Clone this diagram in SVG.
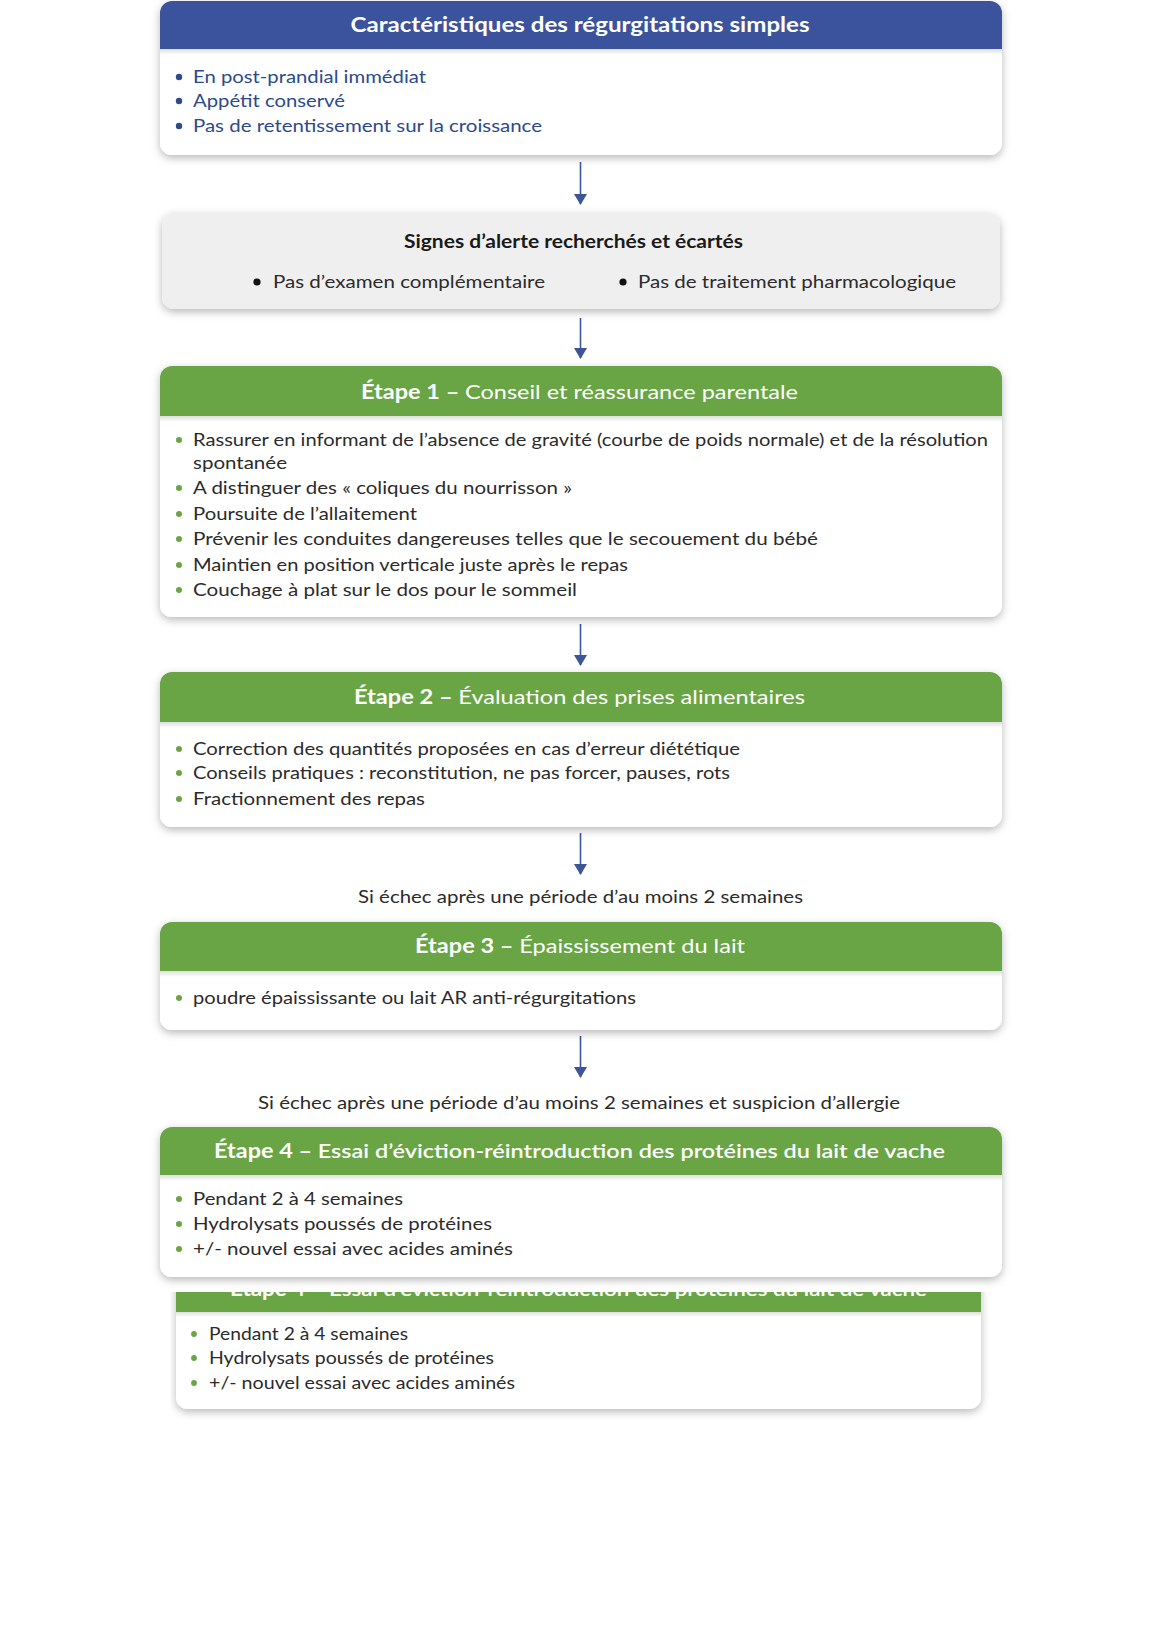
<svg xmlns="http://www.w3.org/2000/svg" width="1157" height="1637" viewBox="0 0 1157 1637">
<style>
.t{font-family:Lato,"Open Sans","Liberation Sans",sans-serif}
.hd{font-size:20px;fill:#ffffff;text-anchor:middle}
.b{font-size:18px;fill:#2b2b2b}
.bb{font-size:18px;fill:#2c4a8c}
.gb{font-size:17.2px;fill:#2b2b2b}
.card{fill:#ffffff;filter:url(#sh)}
.grey{fill:#efefef;filter:url(#sh)}
.blue{fill:#3b539c}
.green{fill:#6aa545}
.dg{fill:#6aa545}
.db{fill:#2c4a8c}
.dk{fill:#111111}
.conn{stroke:#3b5596;stroke-width:1.6;fill:none;marker-end:url(#ah)}
.cap{font-size:18px;fill:#2b2b2b;text-anchor:middle}
</style>
<defs>
<filter id="sh" x="-5%" y="-10%" width="110%" height="130%">
<feDropShadow dx="0" dy="3" stdDeviation="4" flood-color="#000" flood-opacity="0.28"/>
</filter>
<linearGradient id="hs" x1="0" y1="0" x2="0" y2="1">
<stop offset="0" stop-color="#000" stop-opacity="0.13"/>
<stop offset="1" stop-color="#000" stop-opacity="0"/>
</linearGradient>
<marker id="ah" viewBox="0 0 11 13" refX="10" refY="6.5" markerWidth="11" markerHeight="13" markerUnits="userSpaceOnUse" orient="auto">
<path d="M0,0 L11,6.5 L0,13 Z" fill="#3b5596"/>
</marker>
<clipPath id="ghostclip"><rect x="170" y="1292" width="820" height="130"/></clipPath>
</defs>
<rect width="1157" height="1637" fill="#ffffff"/>

<!-- ghost duplicate card (partially hidden) -->
<g id="ghost" clip-path="url(#ghostclip)">
<path class="card" d="M176,1267 H981 V1397 a12,12 0 0 1 -12,12 H188 a12,12 0 0 1 -12,-12 Z"/>
<rect class="green" x="176" y="1267" width="805" height="45"/>
<rect x="176" y="1312" width="805" height="5" fill="url(#hs)"/>
<text class="t hd" x="578.5" y="1296" font-size="19.1" textLength="697" lengthAdjust="spacingAndGlyphs"><tspan font-weight="700">Étape 4 – </tspan><tspan font-weight="600">Essai d’éviction-réintroduction des protéines du lait de vache</tspan></text>
<circle class="dg" cx="194" cy="1334" r="2.9"/>
<circle class="dg" cx="194" cy="1358" r="2.9"/>
<circle class="dg" cx="194" cy="1383" r="2.9"/>
<text class="t gb" x="209" y="1340" textLength="199" lengthAdjust="spacingAndGlyphs">Pendant 2 à 4 semaines</text>
<text class="t gb" x="209" y="1364" textLength="285" lengthAdjust="spacingAndGlyphs">Hydrolysats poussés de protéines</text>
<text class="t gb" x="209" y="1389" textLength="306" lengthAdjust="spacingAndGlyphs">+/- nouvel essai avec acides aminés</text>
</g>
<rect x="168" y="1270" width="824" height="22" fill="#ffffff"/>

<!-- connectors -->
<g id="connectors">
<line class="conn" x1="580.5" y1="162" x2="580.5" y2="204"/>
<line class="conn" x1="580.5" y1="318" x2="580.5" y2="358"/>
<line class="conn" x1="580.5" y1="624" x2="580.5" y2="665"/>
<line class="conn" x1="580.5" y1="833" x2="580.5" y2="874"/>
<line class="conn" x1="580.5" y1="1036" x2="580.5" y2="1077"/>
</g>

<!-- card 1 -->
<g id="card-caracteristiques">
<rect class="card" x="160" y="1" width="842" height="154" rx="12"/>
<path class="blue" d="M160,49 V13 a12,12 0 0 1 12,-12 H990 a12,12 0 0 1 12,12 V49 Z"/>
<rect x="160" y="49" width="842" height="6" fill="url(#hs)"/>
<text class="t hd" x="580" y="32" font-weight="700" textLength="459" lengthAdjust="spacingAndGlyphs">Caractéristiques des régurgitations simples</text>
<circle class="db" cx="179" cy="77" r="3.2"/>
<circle class="db" cx="179" cy="101" r="3.2"/>
<circle class="db" cx="179" cy="126" r="3.2"/>
<text class="t bb" x="193" y="83" textLength="233" lengthAdjust="spacingAndGlyphs">En post-prandial immédiat</text>
<text class="t bb" x="193" y="107" textLength="152" lengthAdjust="spacingAndGlyphs">Appétit conservé</text>
<text class="t bb" x="193" y="132" textLength="349" lengthAdjust="spacingAndGlyphs">Pas de retentissement sur la croissance</text>
</g>

<!-- card 2 -->
<g id="card-signes">
<rect class="grey" x="162" y="213" width="838" height="96" rx="12"/>
<text class="t" x="573.5" y="248" font-size="19" font-weight="700" fill="#1a1a1a" text-anchor="middle" textLength="339" lengthAdjust="spacingAndGlyphs">Signes d’alerte recherchés et écartés</text>
<circle class="dk" cx="257" cy="282" r="3.6"/>
<circle class="dk" cx="623" cy="282" r="3.6"/>
<text class="t b" x="273" y="288" textLength="272" lengthAdjust="spacingAndGlyphs">Pas d’examen complémentaire</text>
<text class="t b" x="638" y="288" textLength="318" lengthAdjust="spacingAndGlyphs">Pas de traitement pharmacologique</text>
</g>

<!-- card 3 -->
<g id="card-etape1">
<rect class="card" x="160" y="366" width="842" height="251" rx="12"/>
<path class="green" d="M160,416 V378 a12,12 0 0 1 12,-12 H990 a12,12 0 0 1 12,12 V416 Z"/>
<rect x="160" y="416" width="842" height="6" fill="url(#hs)"/>
<text class="t hd" x="579.5" y="399" textLength="437" lengthAdjust="spacingAndGlyphs"><tspan font-weight="700">Étape 1 – </tspan><tspan font-weight="400">Conseil et réassurance parentale</tspan></text>
<circle class="dg" cx="179" cy="440" r="3"/>
<circle class="dg" cx="179" cy="488" r="3"/>
<circle class="dg" cx="179" cy="514" r="3"/>
<circle class="dg" cx="179" cy="539" r="3"/>
<circle class="dg" cx="179" cy="565" r="3"/>
<circle class="dg" cx="179" cy="590" r="3"/>
<text class="t b" x="193" y="446" textLength="795" lengthAdjust="spacingAndGlyphs">Rassurer en informant de l’absence de gravité (courbe de poids normale) et de la résolution</text>
<text class="t b" x="193" y="469" textLength="94" lengthAdjust="spacingAndGlyphs">spontanée</text>
<text class="t b" x="193" y="494" textLength="379" lengthAdjust="spacingAndGlyphs">A distinguer des « coliques du nourrisson »</text>
<text class="t b" x="193" y="520" textLength="224" lengthAdjust="spacingAndGlyphs">Poursuite de l’allaitement</text>
<text class="t b" x="193" y="545" textLength="625" lengthAdjust="spacingAndGlyphs">Prévenir les conduites dangereuses telles que le secouement du bébé</text>
<text class="t b" x="193" y="571" textLength="435" lengthAdjust="spacingAndGlyphs">Maintien en position verticale juste après le repas</text>
<text class="t b" x="193" y="596" textLength="384" lengthAdjust="spacingAndGlyphs">Couchage à plat sur le dos pour le sommeil</text>
</g>

<!-- card 4 -->
<g id="card-etape2">
<rect class="card" x="160" y="672" width="842" height="155" rx="12"/>
<path class="green" d="M160,722 V684 a12,12 0 0 1 12,-12 H990 a12,12 0 0 1 12,12 V722 Z"/>
<rect x="160" y="722" width="842" height="6" fill="url(#hs)"/>
<text class="t hd" x="579.5" y="704" textLength="451" lengthAdjust="spacingAndGlyphs"><tspan font-weight="700">Étape 2 – </tspan><tspan font-weight="400">Évaluation des prises alimentaires</tspan></text>
<circle class="dg" cx="179" cy="749" r="3"/>
<circle class="dg" cx="179" cy="773" r="3"/>
<circle class="dg" cx="179" cy="799" r="3"/>
<text class="t b" x="193" y="755" textLength="547" lengthAdjust="spacingAndGlyphs">Correction des quantités proposées en cas d’erreur diététique</text>
<text class="t b" x="193" y="779" textLength="537" lengthAdjust="spacingAndGlyphs">Conseils pratiques : reconstitution, ne pas forcer, pauses, rots</text>
<text class="t b" x="193" y="805" textLength="232" lengthAdjust="spacingAndGlyphs">Fractionnement des repas</text>
</g>

<text id="label-echec1" class="t cap" x="580.5" y="903" textLength="445" lengthAdjust="spacingAndGlyphs">Si échec après une période d’au moins 2 semaines</text>

<!-- card 5 -->
<g id="card-etape3">
<rect class="card" x="160" y="922" width="842" height="108" rx="12"/>
<path class="green" d="M160,971 V934 a12,12 0 0 1 12,-12 H990 a12,12 0 0 1 12,12 V971 Z"/>
<rect x="160" y="971" width="842" height="6" fill="url(#hs)"/>
<text class="t hd" x="580" y="953" textLength="330" lengthAdjust="spacingAndGlyphs"><tspan font-weight="700">Étape 3 – </tspan><tspan font-weight="400">Épaississement du lait</tspan></text>
<circle class="dg" cx="179" cy="998" r="3"/>
<text class="t b" x="193" y="1004" textLength="443" lengthAdjust="spacingAndGlyphs">poudre épaississante ou lait AR anti-régurgitations</text>
</g>

<text id="label-echec2" class="t cap" x="579" y="1109" textLength="642" lengthAdjust="spacingAndGlyphs">Si échec après une période d’au moins 2 semaines et suspicion d’allergie</text>

<!-- card 6 -->
<g id="card-etape4">
<rect class="card" x="160" y="1127" width="842" height="150" rx="12"/>
<path class="green" d="M160,1175 V1139 a12,12 0 0 1 12,-12 H990 a12,12 0 0 1 12,12 V1175 Z"/>
<rect x="160" y="1175" width="842" height="6" fill="url(#hs)"/>
<text class="t hd" x="579.5" y="1158" textLength="731" lengthAdjust="spacingAndGlyphs"><tspan font-weight="700">Étape 4 – </tspan><tspan font-weight="600">Essai d’éviction-réintroduction des protéines du lait de vache</tspan></text>
<circle class="dg" cx="179" cy="1199" r="3"/>
<circle class="dg" cx="179" cy="1224" r="3"/>
<circle class="dg" cx="179" cy="1249" r="3"/>
<text class="t b" x="193" y="1205" textLength="210" lengthAdjust="spacingAndGlyphs">Pendant 2 à 4 semaines</text>
<text class="t b" x="193" y="1230" textLength="299" lengthAdjust="spacingAndGlyphs">Hydrolysats poussés de protéines</text>
<text class="t b" x="193" y="1255" textLength="320" lengthAdjust="spacingAndGlyphs">+/- nouvel essai avec acides aminés</text>
</g>
</svg>
